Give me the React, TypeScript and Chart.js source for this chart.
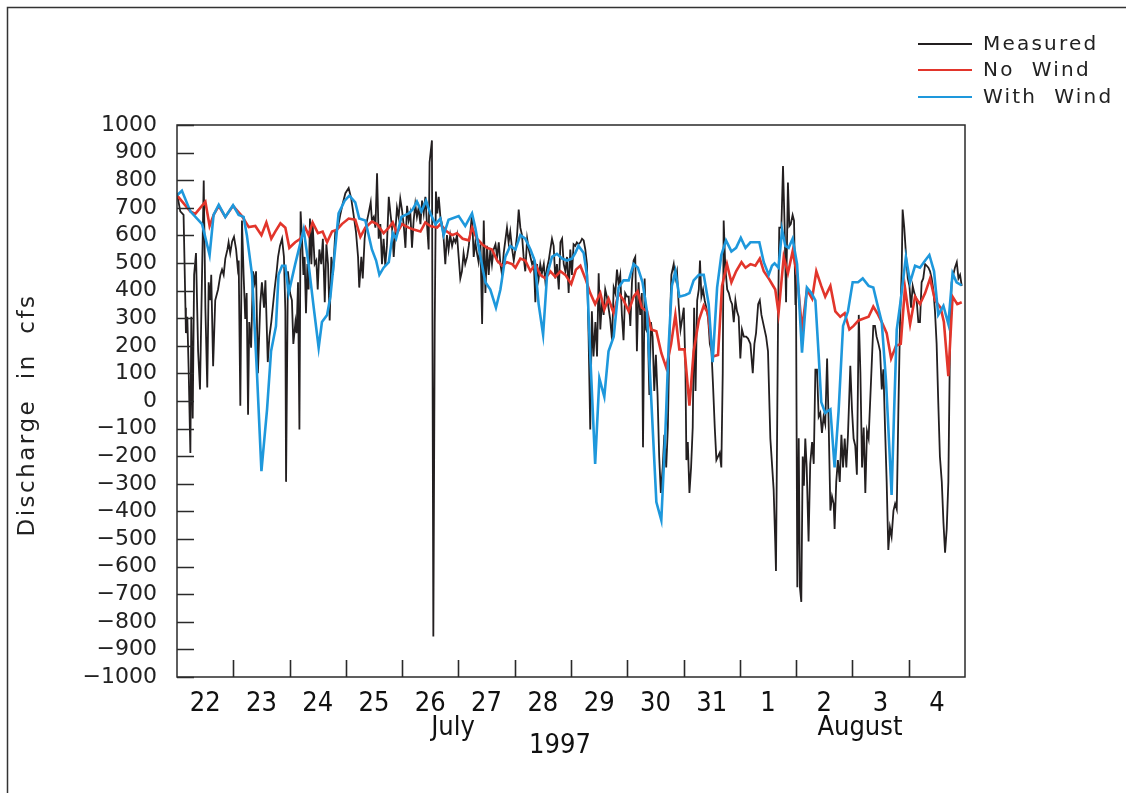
import { useEffect, useRef } from "react";
import { Chart, registerables } from "chart.js";
Chart.register(...registerables);

// x = hours since 22 July 1997 00:00, y = discharge (cfs)
const dayLabels = ["22", "23", "24", "25", "26", "27", "28", "29", "30", "31", "1", "2", "3", "4"];
const monthLabels: [string, number][] = [["July", 117.7], ["August", 291.2]];
const yearLabel: [string, number] = ["1997", 163.3];
const seriesNames = ["Measured", "No  Wind", "With  Wind"];

const measured: [number, number][] = [
  [0, 752], [1.4, 687], [2.8, 674], [3.6, 338], [3.8, 246], [4.4, 305], [5.0, 101], [5.7, -188], [6.1, 305], [6.7, -63], [7.3, 457], [8.1, 536], [9.0, 180], [9.8, 42], [10.7, 470], [11.4, 799], [12.1, 338], [12.9, 49], [13.5, 430], [14.2, 365], [14.6, 457], [15.4, 126], [16.3, 365], [17.5, 404], [18.5, 457], [19.2, 476], [19.9, 457], [20.6, 516], [21.5, 549], [22.0, 575], [22.7, 536], [23.5, 578], [24.3, 595], [25.2, 549], [25.9, 483], [26.3, 509], [27.0, -17], [27.7, 654], [28.4, 457], [29.1, 297], [29.7, 391], [30.3, -50], [30.8, 286], [31.6, 193], [32.4, 470], [33.1, 430], [33.7, 470], [34.5, 101], [35.5, 351], [36.2, 430], [37.1, 338], [37.7, 437], [38.7, 141], [39.4, 233], [40.2, 286],
  [41.6, 404], [42.5, 470], [43.1, 522], [43.9, 562], [44.8, 588], [45.6, 522], [46.2, 325], [46.5, -293], [47.3, 470], [48.2, 391], [49.0, 365], [49.6, 207], [50.5, 286], [51.0, 246], [51.6, 430], [52.2, -103], [52.7, 687], [53.3, 588], [53.9, 457], [54.4, 522], [55.0, 318], [55.6, 496], [56.1, 404], [56.7, 661], [57.3, 496], [57.8, 647], [58.7, 496], [59.4, 509], [60.0, 404], [60.7, 549], [61.5, 496], [62.2, 588], [63.0, 358], [63.7, 568], [64.4, 496], [65.1, 292], [65.8, 522], [66.5, 457], [67.5, 614], [68.6, 628], [69.6, 674], [70.6, 713], [71.8, 753], [73.2, 772], [74.3, 733], [75.3, 674], [76.3, 614], [77.2, 522], [77.7, 411], [78.6, 522], [79.2, 444], [80.0, 588], [80.7, 641], [81.7, 680], [82.6, 720], [83.1, 654],
  [83.9, 667], [84.6, 628], [85.3, 825], [86.0, 588], [86.7, 641], [87.4, 496], [88.1, 588], [88.8, 490], [89.5, 562], [90.3, 740], [91.0, 680], [91.7, 628], [92.4, 522], [93.1, 614], [93.8, 700], [94.5, 667], [95.2, 733], [95.9, 694], [96.7, 634], [97.4, 555], [98.1, 707], [98.8, 654], [99.5, 680], [100.2, 555], [100.9, 654], [101.6, 713], [102.3, 667], [103.0, 700], [103.8, 641], [104.5, 726], [105.2, 680], [105.9, 740], [106.6, 641], [107.3, 549], [107.7, 865], [108.7, 944], [109.3, -853], [109.9, 286], [110.4, 759], [111.0, 680], [111.6, 740], [112.3, 667], [113.0, 641], [113.7, 588], [114.4, 496], [115.1, 601], [115.8, 549], [116.5, 601], [117.3, 562], [118.0, 588], [118.7, 575], [119.4, 601], [120.1, 522], [120.8, 444], [121.5, 470], [122.2, 536], [122.9, 496], [123.7, 522], [124.4, 562], [125.1, 614], [125.8, 680],
  [126.5, 522], [127.2, 575], [127.9, 536], [128.6, 503], [129.4, 568], [130.1, 279], [130.8, 654], [131.5, 391], [132.2, 562], [132.9, 457], [133.6, 549], [134.3, 496], [135.0, 549], [135.8, 568], [136.5, 522], [137.2, 575], [137.9, 496], [138.6, 457], [139.3, 536], [140.0, 582], [140.7, 628], [141.4, 575], [142.1, 614], [142.9, 549], [143.6, 509], [144.3, 549], [145.0, 601], [145.7, 694], [146.4, 628], [147.1, 601], [147.8, 522], [148.5, 470], [149.3, 588], [150.0, 549], [150.7, 522], [151.4, 496], [152.1, 509], [152.8, 358], [153.5, 496], [154.2, 444], [154.9, 496], [155.6, 463], [156.4, 496], [157.1, 430], [157.8, 483], [158.5, 509], [159.2, 549], [159.9, 588], [160.6, 562], [161.3, 444], [162.0, 496], [162.8, 404], [163.5, 575], [164.2, 588], [164.9, 496], [165.6, 470], [166.3, 522], [167.0, 391], [167.7, 549], [168.4, 457],
  [169.1, 568], [169.8, 562], [170.5, 575], [171.2, 568], [172.0, 575], [172.7, 588], [173.4, 582], [174.1, 549], [174.8, 496], [175.5, 233], [176.2, -103], [176.9, 325], [177.6, 161], [178.4, 286], [179.1, 161], [179.8, 463], [180.5, 259], [181.2, 365], [181.9, 312], [182.6, 404], [183.3, 378], [184.0, 338], [184.7, 297], [185.5, 220], [186.2, 411], [186.9, 391], [187.6, 476], [188.3, 424], [189.0, 457], [189.7, 312], [190.4, 220], [191.1, 391], [191.9, 378], [192.6, 378], [193.3, 272], [194.0, 430], [194.7, 509], [195.4, 522], [196.1, 180], [196.8, 430], [197.5, 312], [198.2, 391], [198.7, -168], [199.4, 444], [200.0, 259], [200.8, 246], [201.4, 22], [202.1, 286], [202.8, 233], [203.5, 36], [204.2, 167], [204.9, 22], [205.6, -201], [206.3, -333], [207.1, -241], [207.8, -122], [208.6, -241], [209.3, -96], [210.0, 233], [210.8, 457],
  [211.8, 496], [212.5, 444], [213.2, 470], [213.9, 351], [214.7, 259], [215.4, 297], [216.1, 338], [216.8, 115], [217.2, -214], [217.8, -149], [218.5, -333], [219.2, -241], [219.9, -96], [220.5, 338], [221.1, 36], [221.8, 365], [222.5, 404], [223.0, 509], [223.6, 378], [224.3, 404], [225.0, 365], [225.7, 338], [226.5, 297], [227.2, 207], [227.9, 180], [228.6, 49], [229.3, -96], [230.0, -214], [230.7, -201], [231.4, -188], [232.1, -241], [232.7, 101], [233.1, 654], [233.8, 483], [234.6, 404], [235.3, 391], [236.0, 365], [236.7, 351], [237.4, 286], [238.1, 365], [238.8, 325], [239.5, 305], [240.2, 154], [240.9, 259], [241.7, 233], [242.7, 233], [243.5, 226], [244.5, 207], [245.5, 101], [246.2, 207], [246.9, 246], [247.8, 351], [248.5, 365], [249.2, 312], [250.2, 272], [251.2, 233], [252.0, 180], [253.0, -136],
  [253.7, -228], [254.4, -320], [255.1, -516], [255.4, -616], [256.3, 312], [256.8, 628], [257.7, 628], [258.4, 851], [259.1, 628], [259.7, 358], [260.5, 792], [261.1, 634], [261.7, 641], [262.5, 674], [263.1, 654], [263.7, 351], [263.9, 457], [264.5, -675], [265.1, -135], [265.6, -675], [266.2, -728], [266.8, -201], [267.3, -307], [267.9, -136], [268.5, -241], [269.3, -509], [270.0, -228], [270.8, -149], [271.5, -228], [272.2, 114], [272.9, 114], [273.6, -57], [274.3, -43], [275.0, -116], [275.7, -57], [276.4, -83], [277.2, 154], [277.9, -96], [278.6, -397], [279.3, -346], [280.0, -372], [280.4, -464], [281.1, -293], [281.8, -214], [282.6, -293], [283.3, -122], [284.0, -241], [284.7, -136], [285.4, -241], [286.1, -122], [287.1, 128], [287.8, -30], [288.5, -136], [289.2, -162], [289.9, -267], [290.7, 312], [291.4, 101], [292.1, -241], [292.8, -96], [293.5, -333], [294.2, -109], [294.9, -136],
  [296.2, 128], [296.9, 272], [297.6, 272], [298.3, 233], [299.1, 207], [299.8, 180], [300.5, 42], [301.2, 115], [301.9, -96], [302.6, -293], [303.3, -540], [304.0, -458], [304.7, -491], [305.5, -397], [306.2, -372], [306.9, -392], [307.6, -30], [308.3, 286], [309.0, 470], [309.4, 694], [310.1, 628], [310.9, 522], [311.6, 444], [312.3, 417], [313.0, 338], [313.7, 417], [314.4, 391], [315.4, 365], [316.1, 286], [316.8, 286], [317.5, 430], [318.2, 444], [319.0, 496], [319.7, 490], [320.4, 483], [321.1, 470], [321.8, 444], [322.5, 404], [323.2, 325], [323.9, 207], [324.6, -4], [325.3, -201], [326.1, -293], [326.8, -438], [327.5, -550], [328.2, -464], [328.9, -293], [329.6, 207], [330.3, 430], [331.0, 457], [331.7, 483], [332.5, 503], [333.2, 444], [333.9, 457], [334.6, 417],
];

const noWind: [number, number][] = [
  [0, 745], [5.7, 687], [7.8, 678], [12.1, 722], [13.9, 634], [15.6, 674], [17.8, 707], [20.6, 667], [23.9, 707], [27.7, 670], [30.6, 630], [33.4, 634], [36.0, 601], [38.1, 647], [40.2, 588],
  [41.9, 614], [44.1, 644], [46.2, 628], [47.9, 555], [50.4, 575], [52.6, 588], [54.7, 628], [56.1, 601], [57.8, 647], [60.1, 608], [62.1, 614], [64.0, 575], [66.1, 614], [68.2, 621], [70.3, 641], [73.2, 661], [76.0, 657], [78.2, 595], [80.3, 628], [83.1, 650],
  [85.3, 641], [88.1, 608], [90.3, 628], [92.0, 647], [93.8, 608], [95.9, 641], [98.8, 628], [100.9, 621], [103.8, 614], [105.9, 647], [108.0, 634], [110.9, 628], [112.3, 641], [115.1, 614], [117.3, 601], [119.4, 608], [121.8, 588], [124.4, 582], [125.8, 628],
  [127.9, 588], [130.1, 568], [132.2, 555], [134.3, 549], [136.5, 509], [138.6, 490], [140.7, 503], [142.9, 496], [144.3, 483], [146.4, 516], [148.5, 509], [150.7, 470], [152.8, 496], [154.9, 457], [157.1, 444], [159.2, 470], [161.3, 450], [163.5, 470], [165.6, 457], [168.1, 424],
  [170.1, 476], [172.0, 490], [174.1, 444], [176.2, 391], [178.3, 351], [180.5, 391], [182.2, 332], [184.0, 371], [186.2, 318], [188.3, 391], [190.4, 365], [192.6, 325], [194.7, 378], [196.4, 397], [198.2, 338], [200.4, 325], [202.2, 259], [204.4, 253], [206.5, 174], [208.6, 121], [210.7, 207],
  [212.5, 312], [214.2, 187], [216.4, 187], [218.5, -17], [220.3, 180], [222.5, 292], [224.6, 345], [226.4, 318], [228.4, 161], [230.7, 167], [232.4, 417], [234.5, 496], [236.4, 430], [238.4, 470], [240.7, 503], [242.4, 483], [244.5, 496], [246.6, 490], [248.5, 516], [250.2, 470], [252.3, 444],
  [253.7, 424], [255.1, 404], [256.5, 318], [258.7, 522], [260.5, 463], [262.5, 542], [264.4, 457], [266.5, 259], [268.6, 404], [270.8, 371], [272.6, 470], [274.7, 417], [276.4, 378], [278.6, 417], [280.7, 325], [282.8, 305], [284.7, 318], [286.7, 259], [288.5, 272], [290.6, 292], [292.8, 299], [294.9, 305],
  [296.9, 342], [298.6, 318], [300.9, 279], [302.6, 246], [304.5, 154], [306.6, 200], [308.6, 207], [310.4, 411], [312.6, 279], [314.7, 378], [316.8, 351], [319.0, 391], [321.1, 444], [323.2, 365], [325.6, 338], [327.0, 286], [328.9, 90], [330.7, 378], [332.7, 351], [334.6, 358],
];

const withWind: [number, number][] = [
  [0, 745], [2.1, 762], [5.7, 687], [10.7, 641], [13.9, 529], [15.6, 674], [17.8, 711], [20.6, 667], [23.9, 709], [26.3, 674], [28.4, 667], [29.8, 600], [32.0, 457], [34.1, 100], [36.0, -254], [38.4, -30], [40.1, 180],
  [42.2, 271], [43.3, 457], [44.8, 490], [46.2, 490], [47.6, 391], [50.4, 496], [54.0, 621], [56.1, 496], [58.3, 338], [60.4, 193], [61.8, 286], [64.0, 312], [65.4, 378], [66.8, 496], [68.9, 680], [71.5, 726], [73.5, 744], [76.0, 720], [77.7, 661], [80.3, 654], [83.1, 549],
  [84.9, 509], [86.3, 457], [88.1, 483], [90.3, 503], [92.0, 608], [93.4, 588], [95.7, 667], [98.8, 680], [100.5, 694], [102.3, 722], [104.2, 687], [106.2, 726], [108.0, 680], [110.2, 641], [112.3, 661], [113.7, 601], [115.8, 657], [120.1, 670], [122.9, 634], [125.8, 680],
  [127.2, 628], [129.4, 522], [131.5, 430], [133.6, 404], [136.0, 338], [137.9, 404], [140.0, 522], [142.1, 562], [144.3, 549], [146.4, 601], [148.5, 588], [150.7, 549], [152.5, 509], [154.2, 351], [156.1, 240], [157.8, 457], [159.9, 522], [162.0, 533], [164.2, 516], [166.3, 509], [168.4, 516],
  [169.8, 536], [171.2, 562], [173.4, 536], [174.8, 457], [176.2, 167], [178.3, -228], [180.1, 82], [182.2, 16], [184.0, 180], [186.2, 233], [188.3, 411], [190.4, 437], [192.6, 437], [194.7, 496], [196.5, 483], [198.5, 430], [200.4, 325], [202.2, 9], [204.4, -366], [206.5, -432], [208.2, -122], [209.6, 193], [211.0, 417],
  [212.5, 470], [214.2, 378], [216.8, 384], [218.5, 391], [220.3, 437], [222.5, 457], [224.6, 457], [226.7, 351], [228.4, 141], [230.3, 411], [232.1, 529], [234.1, 582], [236.4, 542], [238.4, 555], [240.4, 591], [242.4, 555], [244.5, 575], [246.6, 575], [248.3, 575], [250.2, 503], [252.3, 457], [253.7, 490],
  [254.8, 499], [256.5, 483], [258.0, 621], [259.4, 562], [260.8, 555], [262.5, 588], [264.4, 496], [266.5, 175], [268.6, 411], [270.5, 391], [272.2, 365], [273.6, 167], [274.7, -4], [276.4, -43], [278.6, -30], [280.4, -241], [282.1, -37], [284.0, 272], [286.1, 325], [288.1, 430], [290.4, 430], [292.4, 444], [294.9, 417],
  [296.9, 411], [298.6, 351], [300.5, 286], [302.3, 75], [303.7, -164], [304.7, -340], [305.7, -57], [306.9, 259], [308.6, 365], [309.7, 444], [310.8, 522], [312.6, 430], [314.7, 490], [316.8, 483], [319.0, 509], [320.8, 529], [322.8, 470], [324.6, 312], [326.8, 345], [328.9, 279], [330.7, 463], [332.4, 430], [334.6, 419],
];

const COLORS = ["#231f20", "#e2352b", "#1e98dc"];
const NARROW = '"Liberation Sans Narrow", "DejaVu Sans Condensed", "Arial Narrow", sans-serif';
const SANS = '"DejaVu Sans", "Noto Sans", sans-serif';

const decorPlugin = {
  id: "decor",
  afterDraw(chart: any) {
    const { ctx, chartArea: a, scales } = chart;
    const xs = scales.x;
    const ys = scales.y;
    ctx.save();
    ctx.strokeStyle = "#333";
    ctx.lineWidth = 1.5;
    // outer frame
    ctx.beginPath();
    ctx.moveTo(7.5, chart.height);
    ctx.lineTo(7.5, 7.5);
    ctx.lineTo(chart.width, 7.5);
    ctx.stroke();
    // plot frame
    ctx.strokeStyle = "#2a2a2a";
    ctx.strokeRect(a.left, a.top, a.right - a.left, a.bottom - a.top);
    // y ticks (inward)
    ctx.lineWidth = 1.6;
    ctx.beginPath();
    for (let v = -1000; v <= 1000; v += 100) {
      const py = Math.round(ys.getPixelForValue(v)) + 0.5;
      ctx.moveTo(a.left, py);
      ctx.lineTo(a.left + 17, py);
    }
    // x ticks (inward, at day boundaries)
    for (let d = 1; d < dayLabels.length; d++) {
      const px = Math.round(xs.getPixelForValue(d * 24)) + 0.5;
      ctx.moveTo(px, a.bottom);
      ctx.lineTo(px, a.bottom - 17);
    }
    ctx.stroke();
    // day labels
    ctx.fillStyle = "#111";
    ctx.textAlign = "center";
    ctx.textBaseline = "middle";
    ctx.font = `27px ${NARROW}`;
    dayLabels.forEach((l, i) => {
      ctx.fillText(l, xs.getPixelForValue(i * 24 + 12), a.bottom + 27);
    });
    monthLabels.forEach(([l, h]) => {
      ctx.fillText(l, xs.getPixelForValue(h), a.bottom + 51);
    });
    ctx.fillText(yearLabel[0], xs.getPixelForValue(yearLabel[1]), a.bottom + 69);
    // y title
    ctx.save();
    ctx.font = `23px ${SANS}`;
    (ctx as any).letterSpacing = "2.5px";
    ctx.translate(28, 415);
    ctx.rotate(-Math.PI / 2);
    ctx.fillStyle = "#222";
    ctx.fillText("Discharge  in  cfs", 0, 0);
    ctx.restore();
    // legend
    ctx.save();
    ctx.font = `20px ${SANS}`;
    (ctx as any).letterSpacing = "2.2px";
    ctx.textAlign = "left";
    const ly = [44, 70, 97];
    seriesNames.forEach((n, i) => {
      ctx.strokeStyle = COLORS[i];
      ctx.lineWidth = 2;
      ctx.beginPath();
      ctx.moveTo(918, ly[i]);
      ctx.lineTo(972, ly[i]);
      ctx.stroke();
      ctx.fillStyle = "#222";
      ctx.fillText(n, 983, ly[i] + 1);
    });
    ctx.restore();
    ctx.restore();
  },
};

export default function App() {
  const ref = useRef<HTMLCanvasElement | null>(null);
  useEffect(() => {
    document.body.style.margin = "0";
    document.body.style.overflow = "hidden";
    const toPts = (arr: [number, number][]) => arr.map(([x, y]) => ({ x, y }));
    const chart = new Chart(ref.current as HTMLCanvasElement, {
      type: "line",
      data: {
        datasets: [
          { label: "Measured", data: toPts(measured), borderColor: COLORS[0], borderWidth: 1.8, pointRadius: 0, tension: 0, order: 2 },
          { label: "No Wind", data: toPts(noWind), borderColor: COLORS[1], borderWidth: 2.6, pointRadius: 0, tension: 0, order: 1 },
          { label: "With Wind", data: toPts(withWind), borderColor: COLORS[2], borderWidth: 2.6, pointRadius: 0, tension: 0, order: 0 },
        ],
      },
      options: {
        animation: false,
        responsive: true,
        maintainAspectRatio: false,
        parsing: false as any,
        normalized: true,
        layout: { padding: { left: 57, top: 125, right: 161, bottom: 36 } },
        plugins: { legend: { display: false }, tooltip: { enabled: false } },
        scales: {
          x: {
            type: "linear",
            min: 0,
            max: 336,
            ticks: { display: false, stepSize: 24 },
            grid: { display: false },
            border: { display: false },
            afterFit: (s: any) => { s.height = 80; },
          },
          y: {
            type: "linear",
            min: -1000,
            max: 1000,
            ticks: {
              stepSize: 100,
              autoSkip: false,
              padding: 20,
              color: "#222",
              font: { family: SANS, size: 22 },
              callback: (v: any) => (v < 0 ? "\u2212" + Math.abs(v) : String(v)),
            },
            grid: { display: false, drawTicks: false },
            border: { display: false },
            afterFit: (s: any) => { s.width = 120; },
          },
        },
      },
      plugins: [decorPlugin],
    });
    return () => chart.destroy();
  }, []);
  return (
    <div style={{ width: 1126, height: 793, position: "relative" }}>
      <canvas ref={ref} />
    </div>
  );
}
